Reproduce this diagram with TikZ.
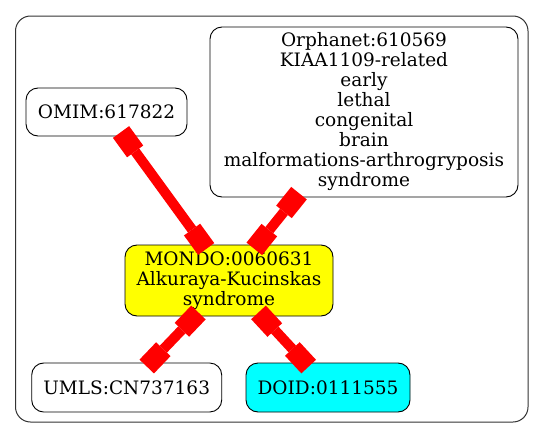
\documentclass[tikz,border=0pt]{standalone}
\usepackage{fontspec}
\setmainfont{DejaVu Serif}
\usetikzlibrary{arrows.meta}
\definecolor{gvyellow}{RGB}{255,255,0}
\definecolor{gvcyan}{RGB}{0,255,255}
\definecolor{gvred}{RGB}{255,0,0}
\begin{document}
\begin{tikzpicture}[x=1pt,y=-1pt,
  nd/.style={draw=black, line width=0.9pt, rounded corners=12pt, align=center,
    inner sep=0pt, font=\fontsize{18.5}{20}\selectfont},
  boxtip/.tip={Square[length=24pt,width=20pt,line width=0pt]},
  edge/.style={draw=gvred, line width=10pt, boxtip-boxtip,
    shorten <=-5.5pt, shorten >=-5.5pt},
  cluster/.style={draw=black!80, line width=1pt, rounded corners=15pt, inner sep=0pt}]
\useasboundingbox (0,0) rectangle (544,439);
\node[cluster, minimum width=512.5pt, minimum height=406pt] (clu) at (271.75,219) {};
\node[nd, minimum width=161pt, minimum height=48pt] (omim) at (106.5,112) {OMIM:617822};
\node[nd, minimum width=308pt, minimum height=170pt] (orph) at (364,112)
  {Orphanet:610569\\KIAA1109-related\\early\\lethal\\congenital\\brain\\malformations-arthrogryposis\\syndrome};
\node[nd, fill=gvyellow, minimum width=208pt, minimum height=71pt] (mondo) at (229,280.5)
  {MONDO:0060631\\Alkuraya-Kucinskas\\syndrome};
\node[nd, minimum width=190pt, minimum height=49pt] (umls) at (126.7,387.5) {UMLS:CN737163};
\node[nd, fill=gvcyan, minimum width=164pt, minimum height=49pt] (doid) at (328,387.5) {DOID:0111555};
\draw[edge] (omim) -- (mondo);
\draw[edge] (orph) -- (mondo);
\draw[edge] (mondo) -- (umls);
\draw[edge] (mondo) -- (doid);
\end{tikzpicture}
\end{document}
